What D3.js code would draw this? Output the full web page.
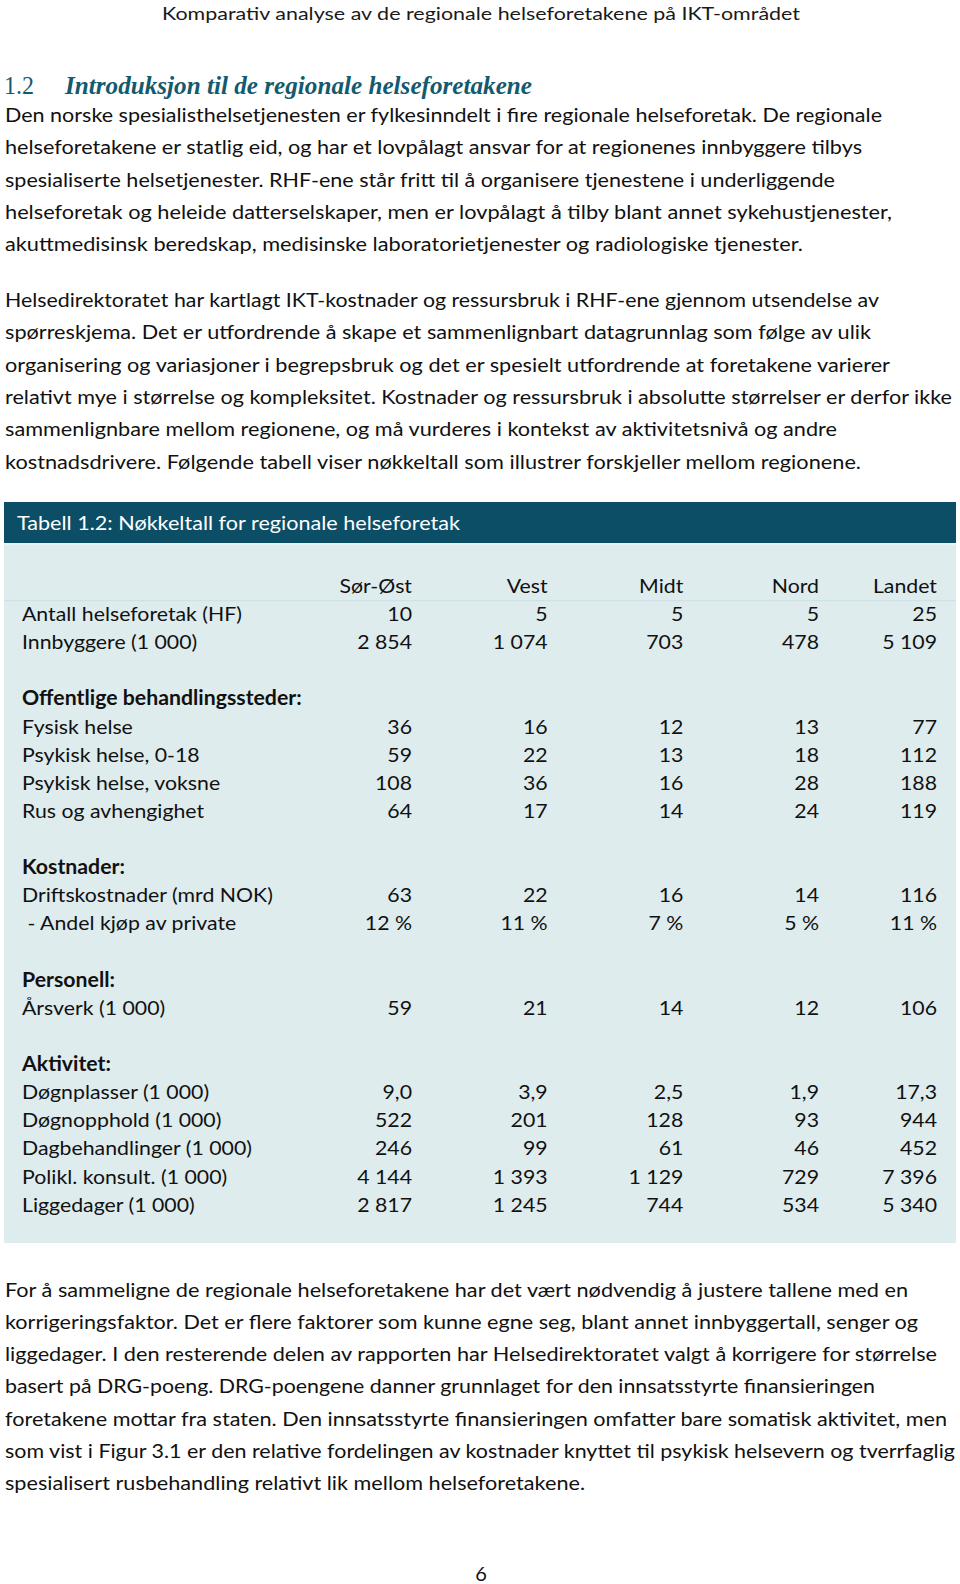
<!DOCTYPE html>
<html><head><meta charset="utf-8">
<script src="https://cdn.jsdelivr.net/npm/d3@7"></script>
<style>html,body{margin:0;padding:0;background:#fff}svg{display:block}</style>
</head><body>
<script>
// ---------- text content ----------
const pageHeader = "Komparativ analyse av de regionale helseforetakene på IKT-området";
const sectionNumber = "1.2";
const sectionTitle = "Introduksjon til de regionale helseforetakene";
const para1 = [
  "Den norske spesialisthelsetjenesten er fylkesinndelt i fire regionale helseforetak. De regionale",
  "helseforetakene er statlig eid, og har et lovpålagt ansvar for at regionenes innbyggere tilbys",
  "spesialiserte helsetjenester. RHF-ene står fritt til å organisere tjenestene i underliggende",
  "helseforetak og heleide datterselskaper, men er lovpålagt å tilby blant annet sykehustjenester,",
  "akuttmedisinsk beredskap, medisinske laboratorietjenester og radiologiske tjenester."
];
const para2 = [
  "Helsedirektoratet har kartlagt IKT-kostnader og ressursbruk i RHF-ene gjennom utsendelse av",
  "spørreskjema. Det er utfordrende å skape et sammenlignbart datagrunnlag som følge av ulik",
  "organisering og variasjoner i begrepsbruk og det er spesielt utfordrende at foretakene varierer",
  "relativt mye i størrelse og kompleksitet. Kostnader og ressursbruk i absolutte størrelser er derfor ikke",
  "sammenlignbare mellom regionene, og må vurderes i kontekst av aktivitetsnivå og andre",
  "kostnadsdrivere. Følgende tabell viser nøkkeltall som illustrer forskjeller mellom regionene."
];
const para3 = [
  "For å sammeligne de regionale helseforetakene har det vært nødvendig å justere tallene med en",
  "korrigeringsfaktor. Det er flere faktorer som kunne egne seg, blant annet innbyggertall, senger og",
  "liggedager. I den resterende delen av rapporten har Helsedirektoratet valgt å korrigere for størrelse",
  "basert på DRG-poeng. DRG-poengene danner grunnlaget for den innsatsstyrte finansieringen",
  "foretakene mottar fra staten. Den innsatsstyrte finansieringen omfatter bare somatisk aktivitet, men",
  "som vist i Figur 3.1 er den relative fordelingen av kostnader knyttet til psykisk helsevern og tverrfaglig",
  "spesialisert rusbehandling relativt lik mellom helseforetakene."
];
const pageNumber = "6";
const tableTitle = "Tabell 1.2: Nøkkeltall for regionale helseforetak";

// ---------- table data ----------
const columns = ["Sør-Øst", "Vest", "Midt", "Nord", "Landet"];
const antallHF        = [10, 5, 5, 5, 25];
const innbyggere      = [2854, 1074, 703, 478, 5109];
const fysiskHelse     = [36, 16, 12, 13, 77];
const psykiskBarn     = [59, 22, 13, 18, 112];
const psykiskVoksne   = [108, 36, 16, 28, 188];
const rusAvhengighet  = [64, 17, 14, 24, 119];
const driftskostnader = [63, 22, 16, 14, 116];
const andelPrivate    = [12, 11, 7, 5, 11];
const arsverk         = [59, 21, 14, 12, 106];
const dognplasser     = [9.0, 3.9, 2.5, 1.9, 17.3];
const dognopphold     = [522, 201, 128, 93, 944];
const dagbehandlinger = [246, 99, 61, 46, 452];
const poliklinisk     = [4144, 1393, 1129, 729, 7396];
const liggedager      = [2817, 1245, 744, 534, 5340];

const rows = [
  {label: "Antall helseforetak (HF)", values: antallHF, fmt: "int"},
  {label: "Innbyggere (1 000)", values: innbyggere, fmt: "int"},
  null,
  {label: "Offentlige behandlingssteder:", bold: true},
  {label: "Fysisk helse", values: fysiskHelse, fmt: "int"},
  {label: "Psykisk helse, 0-18", values: psykiskBarn, fmt: "int"},
  {label: "Psykisk helse, voksne", values: psykiskVoksne, fmt: "int"},
  {label: "Rus og avhengighet", values: rusAvhengighet, fmt: "int"},
  null,
  {label: "Kostnader:", bold: true},
  {label: "Driftskostnader (mrd NOK)", values: driftskostnader, fmt: "int"},
  {label: " - Andel kjøp av private", values: andelPrivate, fmt: "pct"},
  null,
  {label: "Personell:", bold: true},
  {label: "Årsverk (1 000)", values: arsverk, fmt: "int"},
  null,
  {label: "Aktivitet:", bold: true},
  {label: "Døgnplasser (1 000)", values: dognplasser, fmt: "dec"},
  {label: "Døgnopphold (1 000)", values: dognopphold, fmt: "int"},
  {label: "Dagbehandlinger (1 000)", values: dagbehandlinger, fmt: "int"},
  {label: "Polikl. konsult. (1 000)", values: poliklinisk, fmt: "int"},
  {label: "Liggedager (1 000)", values: liggedager, fmt: "int"}
];

// ---------- layout (not data) ----------
const W = 960, H = 1584;
const FONT = "Lato, 'Open Sans', sans-serif";
const para1Ends = [882, 862, 835, 892, 803];
const para2Ends = [879, 871, 890, 952, 837, 861];
const para3Ends = [908, 918, 937, 875, 947, 955, 585];

const svg = d3.select("body").append("svg").attr("width", W).attr("height", H);
svg.append("rect").attr("width", W).attr("height", H).attr("fill", "#fff");

function fit(sel, target) {
  const n = sel.node();
  const w = n.getComputedTextLength();
  if (target && w > 0) sel.attr("textLength", target).attr("lengthAdjust", "spacingAndGlyphs");
  return w;
}

// header
const hdr = svg.append("text").attr("x", 481).attr("y", 19.5)
  .attr("text-anchor", "middle").attr("font-family", FONT).attr("font-weight", 400)
  .attr("font-size", 18).attr("fill", "#1a1a1a").text(pageHeader);
fit(hdr, 638);

// section heading
const teal = "#135a6f";
const n12 = svg.append("text").attr("x", 4).attr("y", 94)
  .attr("font-family", "'Liberation Serif', serif").attr("font-size", 25)
  .attr("fill", teal).text(sectionNumber);
fit(n12, 30);
const st = svg.append("text").attr("x", 65).attr("y", 94)
  .attr("font-family", "'Liberation Serif', serif").attr("font-size", 25)
  .attr("font-weight", "bold").attr("font-style", "italic")
  .attr("fill", teal).text(sectionTitle);
fit(st, 467);

// paragraphs
function paragraph(lines, ends, y0) {
  const y = d3.scaleLinear().domain([0, 1]).range([y0, y0 + 32.3]);
  lines.forEach((l, i) => {
    const t = svg.append("text").attr("x", 5).attr("y", y(i))
      .attr("font-family", FONT).attr("font-size", 19.5).attr("fill", "#111")
      .attr("xml:space", "preserve").text(l);
    fit(t, ends[i] - 5);
  });
}
paragraph(para1, para1Ends, 122);
paragraph(para2, para2Ends, 307);
paragraph(para3, para3Ends, 1296.5);

// table background
const tX0 = 4, tX1 = 956;
svg.append("rect").attr("x", tX0).attr("y", 543).attr("width", tX1 - tX0).attr("height", 700).attr("fill", "#deecee");
svg.append("rect").attr("x", tX0).attr("y", 502).attr("width", tX1 - tX0).attr("height", 41).attr("fill", "#0b4e66");
svg.append("line").attr("x1", tX0).attr("x2", tX1).attr("y1", 544).attr("y2", 544).attr("stroke", "#eaf4f5").attr("stroke-width", 1.5);

const tt = svg.append("text").attr("x", 17).attr("y", 529.5)
  .attr("font-family", FONT).attr("font-size", 20).attr("fill", "#fff").text(tableTitle);
fit(tt, 443);

// table scales
const yRow = d3.scaleLinear().domain([0, rows.length]).range([593, 1211.7]);
const xReg = d3.scalePoint().domain(columns.slice(0, 4)).range([412, 819]);
const xCol = c => c === "Landet" ? tX1 - 19 : xReg(c);

const loc = d3.formatLocale({decimal: ",", thousands: " ", grouping: [3], currency: ["", ""]});
const fmts = {
  int: loc.format(",d"),
  dec: loc.format(",.1f"),
  pct: v => v + " %"
};

// compression ratio for table text (measured from reference label width)
const probe = svg.append("text").attr("font-family", FONT).attr("font-size", 20).text(rows[0].label);
const ratio = 220 / probe.node().getComputedTextLength();
probe.remove();
function tfit(sel) {
  const w = sel.node().getComputedTextLength();
  sel.attr("textLength", w * ratio).attr("lengthAdjust", "spacingAndGlyphs");
}

// separator under header row
svg.append("line").attr("x1", tX0).attr("x2", tX1)
  .attr("y1", yRow(0) + 7.7).attr("y2", yRow(0) + 7.7)
  .attr("stroke", "#cadfe3").attr("stroke-width", 1);

const g = svg.append("g").attr("font-family", FONT).attr("font-size", 20).attr("fill", "#111");
g.selectAll("text.col").data(columns).join("text").attr("class", "col")
  .attr("x", d => xCol(d)).attr("y", yRow(0)).attr("text-anchor", "end").text(d => d)
  .each(function () { tfit(d3.select(this)); });

rows.forEach((r, i) => {
  if (!r) return;
  const yy = yRow(i + 1);
  const lt = g.append("text").attr("x", 22).attr("y", yy)
    .attr("font-weight", r.bold ? 700 : 400).attr("xml:space", "preserve").text(r.label);
  tfit(lt);
  if (r.values) {
    g.selectAll(null).data(r.values.map((v, j) => ({v, c: columns[j]}))).join("text")
      .attr("x", d => xCol(d.c)).attr("y", yy).attr("text-anchor", "end")
      .text(d => fmts[r.fmt](d.v))
      .each(function () { tfit(d3.select(this)); });
  }
});

// page number
svg.append("text").attr("x", 481).attr("y", 1581).attr("text-anchor", "middle")
  .attr("font-family", FONT).attr("font-size", 20).attr("fill", "#111").text(pageNumber);
</script>
</body></html>
